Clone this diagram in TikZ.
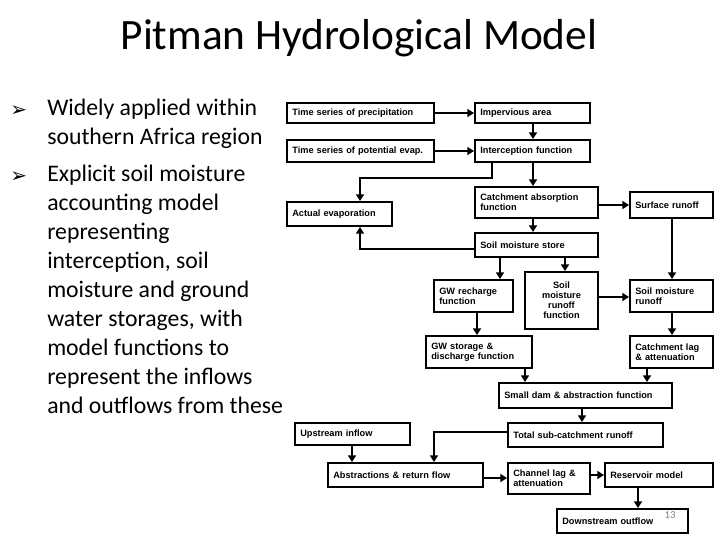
\documentclass[tikz,border=0pt]{standalone}
\usepackage{fontspec}
\setmainfont{Carlito}
\newfontfamily\diag{Liberation Sans}
\newfontfamily\sym{DejaVu Sans}
\usetikzlibrary{arrows.meta}
\tikzset{
  box/.style={draw, line width=1.5pt, inner xsep=4pt, inner ysep=1pt, align=left, font=\diag\bfseries\fontsize{6.9}{7.6}\selectfont},
  cbox/.style={box, align=center},
  arr/.style={line width=1.5pt, -{Triangle[length=5pt,width=6pt]}},
  btxt/.style={anchor=north west, align=left, inner sep=0pt, font=\fontsize{17.8}{21.75}\selectfont},
  bul/.style={anchor=west, inner sep=0pt, font=\sym\fontsize{15}{16}\selectfont}
}
\newcommand\bx[7][box]{%
  \pgfmathsetmacro\bw{(#5-#3)*0.75}\pgfmathsetmacro\bh{(#6-#4)*0.75}\pgfmathsetmacro\tw{\bw-8}%
  \node[#1, minimum width=\bw pt, minimum height=\bh pt, text width=\tw pt] (#2) at ({(#3+#5)/2},{(#4+#6)/2}) {#7};}
\begin{document}
\begin{tikzpicture}[x=0.75pt,y=-0.75pt]
\useasboundingbox (0,0) rectangle (720,540);
\node[font=\fontsize{32.5}{36}\selectfont] (title) at (359,38) {Pitman Hydrological Model};
\node[bul] (b1) at (10,111) {➢};
\node[btxt] (t1) at (47,99) {Widely applied within\\southern Africa region};
\node[bul] (b2) at (10,177) {➢};
\node[btxt] (t2) at (47,165) {Explicit soil moisture\\accounting model\\representing\\interception, soil\\moisture and ground\\water storages, with\\model functions to\\represent the inflows\\and outflows from these};

\bx{pre}{287}{103}{434}{123}{Time series of precipitation}
\bx{imp}{475}{103}{590}{123}{Impervious area}
\bx{pev}{287}{140}{434}{162}{Time series of potential evap.}
\bx{int}{475}{140}{590}{162}{Interception function}
\bx{cab}{475}{187}{598}{218}{Catchment absorption\\function}
\bx{aev}{287}{202}{392}{226}{Actual evaporation}
\bx{sur}{630}{192}{713}{218}{Surface runoff}
\bx{sms}{475}{233}{598}{257}{Soil moisture store}
\bx{gwr}{434}{280}{513}{312}{GW recharge\\function}
\bx[cbox]{smf}{525}{272}{598}{329}{Soil\\moisture\\runoff\\function}
\bx{smr}{630}{280}{713}{312}{Soil moisture\\runoff}
\bx{gws}{426}{336}{532}{368}{GW storage \&\\discharge function}
\bx{cla}{630}{336}{713}{368}{Catchment lag\\\& attenuation}
\bx{dam}{499}{383}{672}{408}{Small dam \& abstraction function}
\bx{ups}{295}{423}{410}{445}{Upstream inflow}
\bx{tot}{508}{423}{663}{447}{Total sub-catchment runoff}
\bx{abs}{328}{463}{483}{487}{Abstractions \& return flow}
\bx{chl}{508}{463}{590}{494}{Channel lag \&\\attenuation}
\bx{res}{605}{463}{713}{487}{Reservoir model}
\bx{dwn}{557}{509}{688}{533}{Downstream outflow}
\node[text=gray, font=\fontsize{8}{9}\selectfont] (pg) at (670,515) {13};

\coordinate (x492) at (492,178);
\coordinate (x360) at (360,178);
\coordinate (x533) at (533,0);
\coordinate (x500) at (500,0);
\coordinate (x565) at (565,0);
\coordinate (x672) at (672,0);
\coordinate (x477) at (477,0);
\coordinate (x525) at (525,0);
\coordinate (x647) at (647,0);
\coordinate (x582) at (582,0);
\coordinate (x434) at (434,0);
\coordinate (x352) at (352,0);
\coordinate (x638) at (638,0);
\coordinate (y249) at (0,249);
\coordinate (y432) at (0,432);
\coordinate (y297) at (0,297);
\coordinate (y478) at (0,478);
\coordinate (y475) at (0,475);

\draw[arr] (pre) -- (imp);
\draw[arr] (pev) -- (int);
\draw[arr] (imp.south -| x533) -- (int.north -| x533);
\draw[arr] (int.south -| x492) -- (x492) -- (x360) -- (aev.north -| x360);
\draw[arr] (int.south -| x533) -- (cab.north -| x533);
\draw[arr] (cab.east |- sur) -- (sur.west);
\draw[arr] (cab.south -| x533) -- (sms.north -| x533);
\draw[arr] (sms.west |- y249) -| (aev.south -| x360);
\draw[arr] (sms.south -| x500) -- (gwr.north -| x500);
\draw[arr] (sms.south -| x565) -- (smf.north -| x565);
\draw[arr] (smf.east |- y297) -- (smr.west |- y297);
\draw[arr] (sur.south -| x672) -- (smr.north -| x672);
\draw[arr] (gwr.south -| x477) -- (gws.north -| x477);
\draw[arr] (smr.south -| x672) -- (cla.north -| x672);
\draw[arr] (gws.south -| x525) -- (dam.north -| x525);
\draw[arr] (cla.south -| x647) -- (dam.north -| x647);
\draw[arr] (dam.south -| x582) -- (tot.north -| x582);
\draw[arr] (tot.west |- y432) -| (abs.north -| x434);
\draw[arr] (ups.south -| x352) -- (abs.north -| x352);
\draw[arr] (abs.east |- y478) -- (chl.west |- y478);
\draw[arr] (chl.east |- y475) -- (res.west |- y475);
\draw[arr] (res.south -| x638) -- (dwn.north -| x638);
\end{tikzpicture}
\end{document}
